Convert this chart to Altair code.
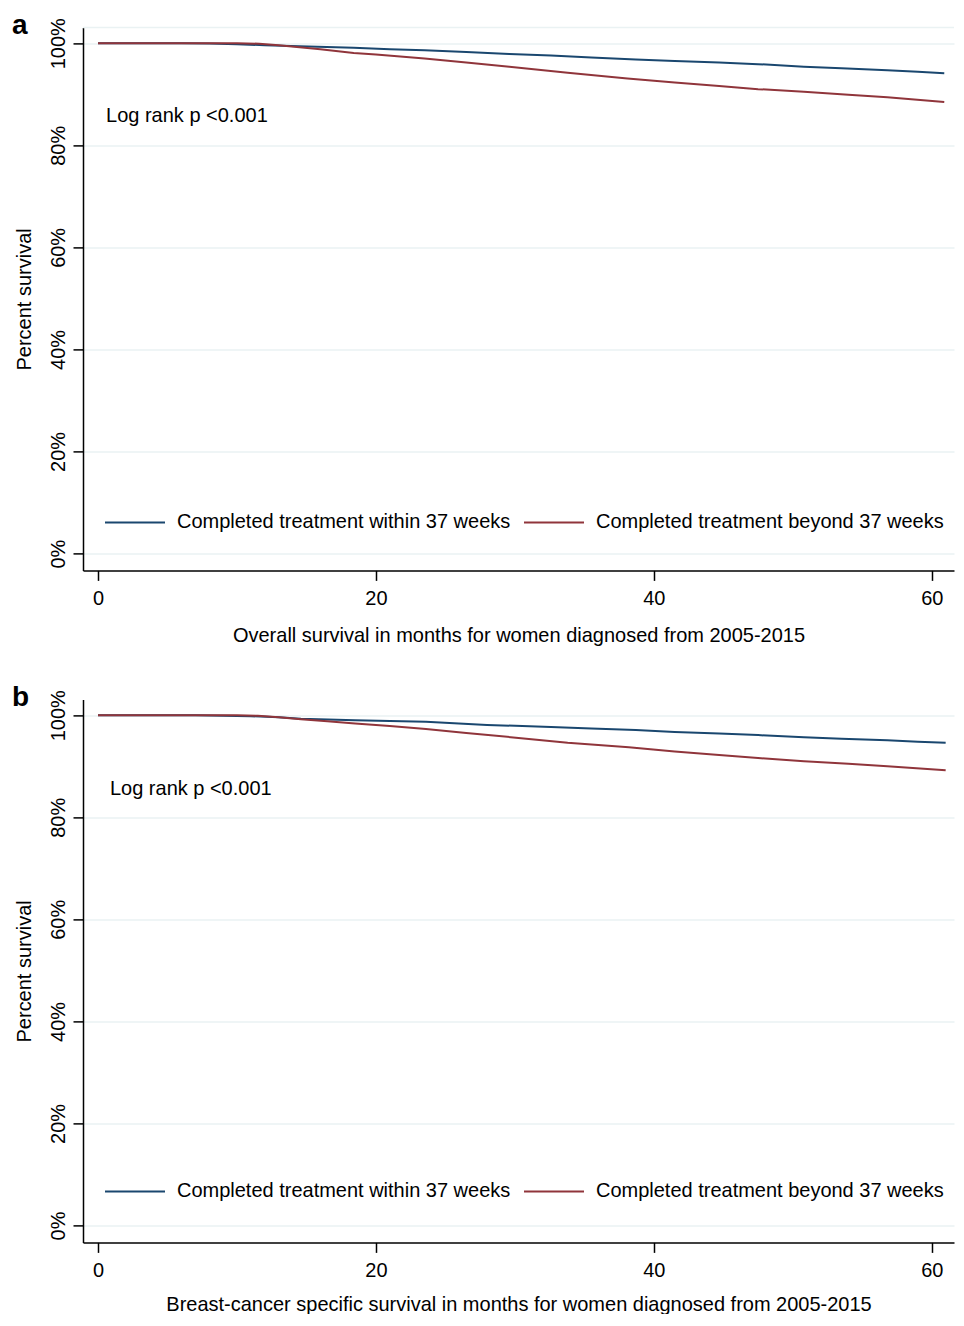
import altair as alt
import pandas as pd

GROUPS = ["Completed treatment within 37 weeks", "Completed treatment beyond 37 weeks"]
COLORS = ["#1a476f", "#90353b"]

# Panel a: overall survival
a_within_month = [0, 6, 8, 10, 12, 14.5, 18.4, 21, 23.5, 26.5, 29.6, 32.6, 35.5, 38.7, 41.5, 44.7, 47.5, 50.8, 53.5, 56.8, 59, 60.9]
a_within_surv = [100, 100, 99.95, 99.8, 99.6, 99.4, 99.1, 98.8, 98.6, 98.3, 97.9, 97.6, 97.2, 96.8, 96.5, 96.2, 95.9, 95.4, 95.1, 94.7, 94.4, 94.1]
a_beyond_month = [0, 8, 10, 11.6, 13, 14.5, 16, 18.4, 20, 23.5, 26.5, 29.6, 33.8, 38.1, 41.5, 44.7, 47.5, 50.8, 54, 56.8, 60.9]
a_beyond_surv = [100, 100, 100, 99.9, 99.6, 99.2, 98.8, 98.1, 97.8, 97.0, 96.2, 95.4, 94.2, 93.1, 92.3, 91.6, 91.0, 90.5, 89.9, 89.4, 88.5]

# Panel b: breast-cancer specific survival
b_within_month = [0, 7, 9, 11, 13, 14.6, 18.5, 21, 23.6, 28, 32.6, 35.5, 38.7, 41.5, 44.7, 47.5, 50.8, 53.5, 56.8, 59, 61]
b_within_surv = [100, 100, 99.9, 99.8, 99.6, 99.3, 99.0, 98.85, 98.7, 98.1, 97.7, 97.4, 97.1, 96.7, 96.4, 96.1, 95.7, 95.4, 95.1, 94.8, 94.6]
b_beyond_month = [0, 10, 11.5, 13, 14.6, 16.5, 18.5, 21, 23.6, 26.5, 29.7, 33.8, 38.2, 41.5, 44.7, 47.5, 50.8, 54, 56.8, 61]
b_beyond_surv = [100, 100, 99.9, 99.6, 99.2, 98.8, 98.4, 97.9, 97.3, 96.5, 95.7, 94.6, 93.7, 92.9, 92.2, 91.6, 91.0, 90.5, 90.0, 89.2]

panel_letters = ["a", "b"]
x_titles = ["Overall survival in months for women diagnosed from 2005-2015",
            "Breast-cancer specific survival in months for women diagnosed from 2005-2015"]
logrank_text = ["Log rank p <0.001", "Log rank p <0.001"]
logrank_x = [0.58, 0.86]
logrank_y = [85.7, 85.5]

x_ticks = [0, 20, 40, 60]
y_ticks = [0, 20, 40, 60, 80, 100]

W, H = 871, 543
FONT = "Liberation Sans"
FS = 20


def make_df(m1, s1, m2, s2):
    return pd.concat([
        pd.DataFrame({"month": m1, "surv": s1, "group": GROUPS[0]}),
        pd.DataFrame({"month": m2, "surv": s2, "group": GROUPS[1]}),
    ], ignore_index=True)


def panel(i, df, title_pad, legend_y, top_border):
    x = alt.X("month:Q", scale=alt.Scale(domain=[-1.08, 61.6], nice=False, zero=False),
              axis=alt.Axis(values=x_ticks, title=x_titles[i], grid=False, tickSize=10,
                            labelPadding=8, titlePadding=title_pad, labelFontSize=FS,
                            titleFontSize=FS, titleFontWeight="normal"))
    y = alt.Y("surv:Q", scale=alt.Scale(domain=[-3.3, 103.1], nice=False, zero=False),
              axis=alt.Axis(values=y_ticks, title="Percent survival", grid=True,
                            gridColor="#eaf2f3", gridWidth=1.5, tickSize=10,
                            labelExpr="datum.value + '%'", labelAngle=270,
                            labelAlign="center", labelBaseline="bottom", labelPadding=5,
                            labelFontSize=FS, titleFontSize=FS, titleFontWeight="normal",
                            titlePadding=14))
    lines = alt.Chart(df).mark_line(strokeWidth=2).encode(
        x=x, y=y,
        color=alt.Color("group:N", scale=alt.Scale(domain=GROUPS, range=COLORS),
                        legend=alt.Legend(title=None, orient="none", legendX=21, legendY=legend_y,
                                          direction="horizontal", symbolType="stroke",
                                          symbolSize=3600, symbolStrokeWidth=2,
                                          labelFontSize=FS, labelOffset=11, columnPadding=9,
                                          labelLimit=500)),
    )
    ann = alt.Chart(pd.DataFrame({"x": [logrank_x[i]], "y": [logrank_y[i]], "t": [logrank_text[i]]})).mark_text(
        align="left", baseline="middle", fontSize=FS, font=FONT, color="#000"
    ).encode(x="x:Q", y="y:Q", text="t:N")
    letter = alt.Chart(pd.DataFrame({"t": [panel_letters[i]]})).mark_text(
        align="left", baseline="middle", fontSize=28, fontWeight="bold", font=FONT, color="#000"
    ).encode(x=alt.value(-71), y=alt.value(-1.5), text="t:N")
    layers = [lines, ann, letter]
    if top_border:
        border = alt.Chart(pd.DataFrame({"t": [0]})).mark_rule(color="#eaf2f3", strokeWidth=1.5).encode(
            x=alt.value(0), x2=alt.value(W), y=alt.value(0))
        layers.insert(0, border)
    return alt.layer(*layers).properties(width=W, height=H)


pa = panel(0, make_df(a_within_month, a_within_surv, a_beyond_month, a_beyond_surv), 17, 464, True)
pb = panel(1, make_df(b_within_month, b_within_surv, b_beyond_month, b_beyond_surv), 14, 461, False)

chart = alt.vconcat(pa, pb, spacing=38).resolve_scale(color="independent").properties(
    padding={"left": 4, "top": 3.4, "right": 0, "bottom": 0}
).configure(font=FONT).configure_view(stroke=None).configure_axis(
    domainColor="#000", domainWidth=1.5, tickColor="#000", tickWidth=1.5,
    labelColor="#000", titleColor="#000", labelFont=FONT, titleFont=FONT
).configure_legend(labelFont=FONT, labelColor="#000")

chart.save("out.html", embed_options={"renderer": "svg", "actions": False})
